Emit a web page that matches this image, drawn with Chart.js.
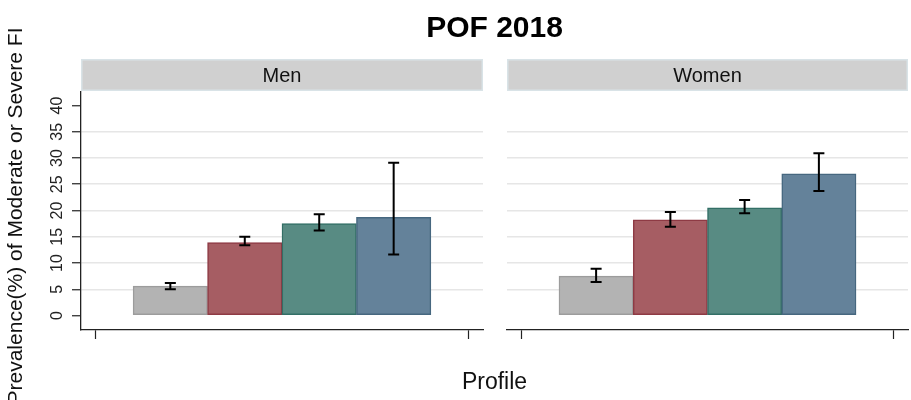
<!DOCTYPE html>
<html>
<head>
<meta charset="utf-8">
<script src="https://cdn.jsdelivr.net/npm/chart.js@4.4.1/dist/chart.umd.min.js"></script>
<style>
  html, body { margin: 0; padding: 0; background: #ffffff; }
  #wrap { position: relative; width: 911px; height: 400px; overflow: hidden; background: #ffffff; }
  #wrap canvas { position: absolute; left: 0; top: 0; }
</style>
</head>
<body>
<div id="wrap">
  <canvas id="menChart" width="911" height="400"></canvas>
  <canvas id="womenChart" width="911" height="400"></canvas>
</div>
<script>
// ---- chart data ----
const chartTitle = 'POF 2018';
const panelNames = ['Men', 'Women'];
const yAxisTitle = 'Prevalence(%) of Moderate or Severe FI';
const xAxisTitle = 'Profile';

const profiles = [1, 2, 3, 4];            // bar positions on the profile axis
const yTickValues = [0, 5, 10, 15, 20, 25, 30, 35, 40];
const xTickValues = [0, 5];

const menPrevalence = [5.6, 13.9, 17.5, 18.7];
const menLower      = [5.0, 13.4, 16.2, 11.6];
const menUpper      = [6.2, 15.0, 19.3, 29.1];

const womenPrevalence = [7.5, 18.2, 20.5, 27.0];
const womenLower      = [6.4, 16.9, 19.5, 23.7];
const womenUpper      = [8.9, 19.7, 22.0, 30.9];

// ---- styling ----
const FONT = '"Liberation Sans", Arial, Helvetica, sans-serif';
const barFill   = ['#b3b3b3', '#a65d63', '#588b83', '#64829a'];
const barBorder = ['#9c9c9c', '#8e3a44', '#336f66', '#46677f'];
const gridColor = '#e6e6e6';
const axisColor = '#222222';

// strip header, confidence-interval whiskers and (left panel) the shared titles
function panelPlugin(panelName, lower, upper, drawShared) {
  return {
    id: 'panelDecor',
    afterDatasetsDraw(chart) {
      const { ctx, scales: { x, y } } = chart;
      ctx.save();
      ctx.strokeStyle = '#000000';
      ctx.lineWidth = 2;
      const cap = 5.5;
      profiles.forEach((p, i) => {
        const px = x.getPixelForValue(p);
        const yLo = y.getPixelForValue(lower[i]);
        const yHi = y.getPixelForValue(upper[i]);
        ctx.beginPath();
        ctx.moveTo(px, yLo); ctx.lineTo(px, yHi);
        ctx.moveTo(px - cap, yLo); ctx.lineTo(px + cap, yLo);
        ctx.moveTo(px - cap, yHi); ctx.lineTo(px + cap, yHi);
        ctx.stroke();
      });
      ctx.restore();
    },
    afterDraw(chart) {
      const { ctx, chartArea: a } = chart;
      ctx.save();
      // strip header
      const top = a.top - 33, h = 32;
      ctx.fillStyle = '#d0d0d0';
      ctx.fillRect(a.left, top, a.right - a.left, h);
      ctx.strokeStyle = '#d9e3e7';
      ctx.lineWidth = 1.5;
      ctx.strokeRect(a.left + 0.75, top + 0.75, a.right - a.left - 1.5, h - 1.5);
      ctx.fillStyle = '#111111';
      ctx.font = '20px ' + FONT;
      ctx.textAlign = 'center';
      ctx.textBaseline = 'middle';
      ctx.fillText(panelName, (a.left + a.right) / 2, top + h / 2 + 1);

      if (drawShared) {
        // main title
        ctx.font = 'bold 30px ' + FONT;
        ctx.fillStyle = '#000000';
        ctx.fillText(chartTitle, 494.5, 29);
        // x axis title
        ctx.font = '23px ' + FONT;
        ctx.fillStyle = '#111111';
        ctx.fillText(xAxisTitle, 494.5, 383);
        // y axis title
        ctx.translate(16, 216);
        ctx.rotate(-Math.PI / 2);
        ctx.font = '21px ' + FONT;
        ctx.fillText(yAxisTitle, 0, 0);
      }
      ctx.restore();
    }
  };
}

function makePanel(canvasId, values, lower, upper, panelName, isLeft) {
  const gridLine = (c) => (c.tick && (c.tick.value === 0 || c.tick.value === 40)) ? 'rgba(0,0,0,0)' : gridColor;
  return new Chart(document.getElementById(canvasId), {
    type: 'bar',
    data: {
      datasets: [{
        data: profiles.map((p, i) => ({ x: p, y: values[i] })),
        backgroundColor: barFill,
        borderColor: barBorder,
        borderWidth: 1.5,
        borderSkipped: false,
        categoryPercentage: 1,
        barPercentage: 1
      }]
    },
    options: {
      responsive: false,
      animation: false,
      devicePixelRatio: 1,
      layout: {
        padding: isLeft
          ? { left: 0, right: 428, top: 92, bottom: 60 }
          : { left: 507, right: 3, top: 92, bottom: 60 }
      },
      plugins: { legend: { display: false }, tooltip: { enabled: false }, title: { display: false } },
      scales: {
        x: {
          type: 'linear',
          min: -0.2,
          max: 5.2,
          offset: false,
          afterBuildTicks: (s) => { s.ticks = xTickValues.map(v => ({ value: v })); },
          afterFit: (s) => { s.height = 10; },
          ticks: { display: false },
          grid: { offset: false, drawOnChartArea: false, drawTicks: true, tickLength: 9, tickColor: axisColor, tickWidth: 1.2 },
          border: { display: true, color: axisColor, width: 1.3 }
        },
        y: {
          type: 'linear',
          min: -2.76,
          max: 42.57,
          afterBuildTicks: (s) => { s.ticks = yTickValues.map(v => ({ value: v })); },
          afterFit: (s) => { s.width = isLeft ? 81 : 0; },
          ticks: {
            display: isLeft,
            minRotation: 90,
            maxRotation: 90,
            crossAlign: 'center',
            padding: 6,
            color: '#222222',
            font: { family: FONT, size: 16 }
          },
          grid: {
            color: gridLine,
            lineWidth: 1.5,
            drawTicks: isLeft,
            tickLength: 9,
            tickColor: axisColor,
            tickWidth: 1.2
          },
          border: { display: isLeft, color: axisColor, width: 1.3 }
        }
      }
    },
    plugins: [panelPlugin(panelName, lower, upper, isLeft)]
  });
}

makePanel('menChart', menPrevalence, menLower, menUpper, panelNames[0], true);
makePanel('womenChart', womenPrevalence, womenLower, womenUpper, panelNames[1], false);
</script>
</body>
</html>
